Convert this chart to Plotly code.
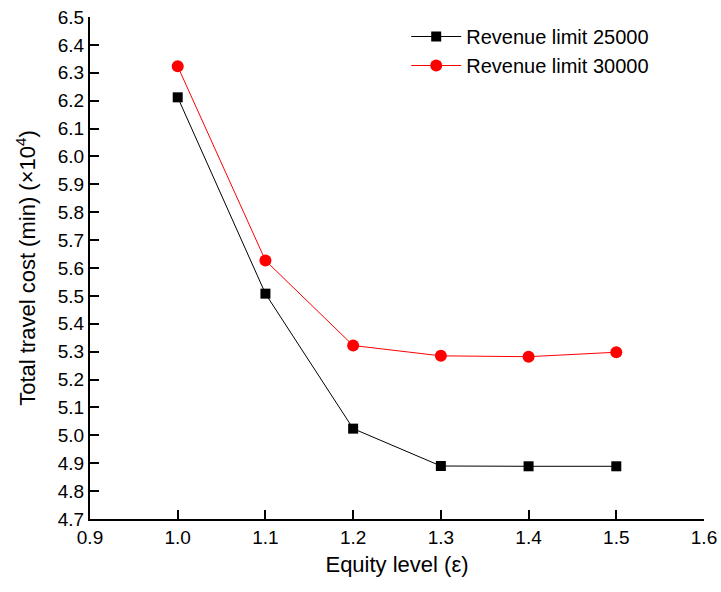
import plotly.graph_objects as go

equity = [1.0, 1.1, 1.2, 1.3, 1.4, 1.5]
rev_25000 = [6.212, 5.508, 5.024, 4.890, 4.889, 4.889]
rev_30000 = [6.323, 5.627, 5.322, 5.285, 5.282, 5.298]
x_ticks = [0.9, 1.0, 1.1, 1.2, 1.3, 1.4, 1.5, 1.6]
y_ticks = [round(4.7 + 0.1 * i, 1) for i in range(19)]

fig = go.Figure()
fig.add_trace(go.Scatter(x=equity, y=rev_25000, mode="lines+markers",
                         name="Revenue limit 25000",
                         line=dict(color="black", width=1),
                         marker=dict(symbol="square", size=10, color="black")))
fig.add_trace(go.Scatter(x=equity, y=rev_30000, mode="lines+markers",
                         name="Revenue limit 30000",
                         line=dict(color="red", width=1),
                         marker=dict(symbol="circle", size=12, color="red")))

font = "Liberation Sans, Arial, sans-serif"
fig.update_layout(
    width=721, height=592,
    margin=dict(l=90, r=17, t=17, b=73),
    plot_bgcolor="white", paper_bgcolor="white",
    font=dict(family=font, size=19, color="black"),
    showlegend=True,
    legend=dict(x=0.515, y=1.0, xanchor="left", yanchor="top",
                bgcolor="rgba(0,0,0,0)", font=dict(size=20),
                itemwidth=50, tracegroupgap=0),
    xaxis=dict(range=[0.9, 1.6], tickvals=x_ticks,
               ticktext=[f"{v:.1f}" for v in x_ticks],
               showgrid=False, zeroline=False, showline=True,
               linecolor="black", linewidth=2, ticks="inside", ticklen=9,
               tickwidth=2, tickcolor="black", automargin=False,
               title=dict(text="Equity level (ε)", font=dict(size=22), standoff=10)),
    yaxis=dict(range=[4.7, 6.5], tickvals=y_ticks,
               ticktext=[f"{v:.1f}" for v in y_ticks],
               showgrid=False, zeroline=False, showline=True,
               linecolor="black", linewidth=2, ticks="inside", ticklen=9,
               tickwidth=2, tickcolor="black", automargin=False,
               title=dict(text="Total travel cost (min) (×10<sup>4</sup>)",
                          font=dict(size=22), standoff=16)),
)
fig.write_html("out.html", config={"displayModeBar": False},
               post_script="document.body.style.margin='0px';")
